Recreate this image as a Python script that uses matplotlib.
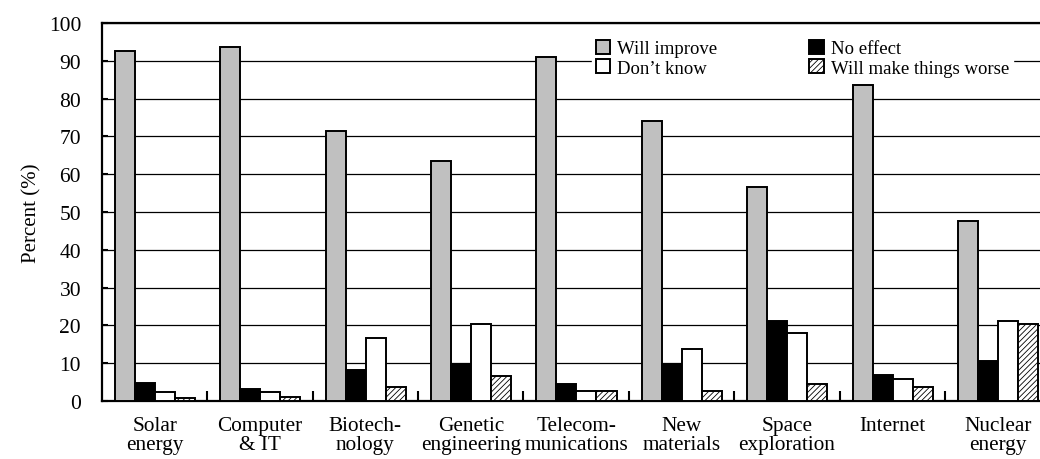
import matplotlib.pyplot as plt
import numpy as np

plt.rcParams['font.family'] = ['Liberation Serif', 'DejaVu Serif']
plt.rcParams['hatch.linewidth'] = 0.6

categories = ["Solar\nenergy", "Computer\n& IT", "Biotech-\nnology", "Genetic\nengineering",
              "Telecom-\nmunications", "New\nmaterials", "Space\nexploration", "Internet",
              "Nuclear\nenergy"]
will_improve = [92.5, 93.5, 71.5, 63.5, 91.0, 74.0, 56.5, 83.5, 47.5]
no_effect = [4.8, 3.3, 8.1, 9.8, 4.4, 9.8, 21.2, 7.0, 10.7]
dont_know = [2.3, 2.3, 16.8, 20.5, 2.6, 13.7, 17.9, 5.8, 21.1]
worse = [0.7, 1.2, 3.8, 6.5, 2.6, 2.6, 4.4, 3.7, 20.5]

fig = plt.figure(figsize=(10.4, 4.6), dpi=100)
# the plot area runs a little past the right edge of the picture
ax = fig.add_axes([0.098, 0.126, 0.912, 0.822])

x = np.arange(len(categories))
w = 0.19
start = 0.123
kw = dict(edgecolor='black', linewidth=1.4, zorder=3)
b1 = ax.bar(x + start + 0.5 * w, will_improve, w, color='#c0c0c0', label='Will improve', **kw)
b2 = ax.bar(x + start + 1.5 * w, no_effect, w, color='black', label='No effect', **kw)
b3 = ax.bar(x + start + 2.5 * w, dont_know, w, color='white', label='Don\u2019t know', **kw)
b4 = ax.bar(x + start + 3.5 * w, worse, w, color='white', hatch='//////', label='Will make things worse', **kw)

ax.set_xlim(0, len(categories))
ax.set_ylim(0, 100)
ax.set_yticks(range(0, 101, 10))
ax.yaxis.grid(True, color='black', linewidth=0.9, zorder=0)
ax.set_axisbelow(True)

ax.set_xticks(x + 0.5)
ax.set_xticklabels(categories, fontsize=15.3, linespacing=1.0)
ax.set_xticks(x[1:], minor=True)
ax.tick_params(axis='x', which='major', length=0, pad=11)
ax.tick_params(axis='x', which='minor', direction='in', length=7, width=1.5)
ax.tick_params(axis='y', direction='in', length=4, width=1.5, labelsize=15.5, pad=15)

ax.set_ylabel('Percent (%)', fontsize=15, labelpad=5)

for s in ['left', 'top', 'bottom']:
    ax.spines[s].set_linewidth(1.6)
ax.spines['right'].set_visible(False)

leg = ax.legend(handles=[b1, b3, b2, b4], ncol=2, loc='upper left',
                bbox_to_anchor=(0.507, 0.99), frameon=True, framealpha=1,
                edgecolor='white', fancybox=False, fontsize=13.5,
                handlelength=0.75, handleheight=0.75, handletextpad=0.4,
                columnspacing=4.9, labelspacing=0.1, borderpad=0.2)
leg.set_zorder(5)

fig.savefig('out.png', dpi=100)
